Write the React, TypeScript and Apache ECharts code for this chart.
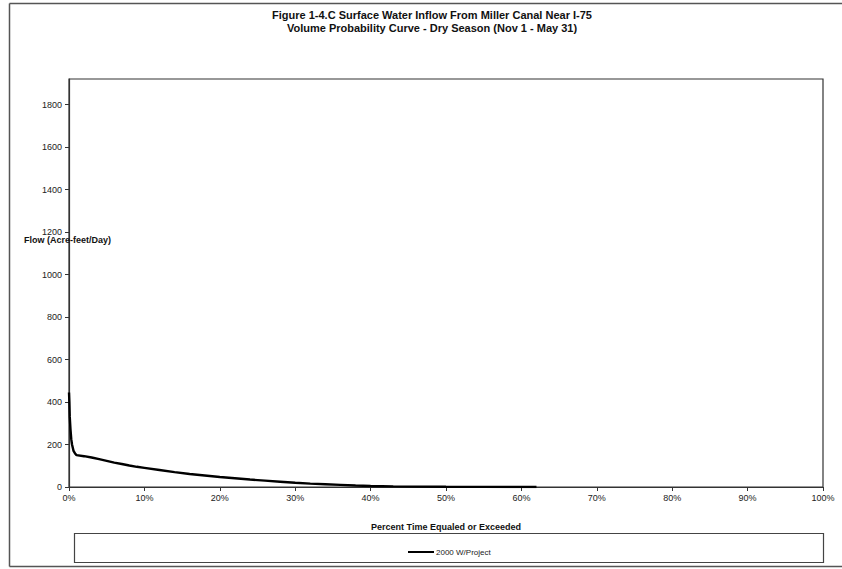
import React, { useEffect, useRef } from "react";
import * as echarts from "echarts";

const titleLines = [
  "Figure 1-4.C Surface Water Inflow From Miller Canal Near I-75",
  "Volume Probability Curve - Dry Season (Nov 1 - May 31)",
];
const seriesName = "2000 W/Project";
const xAxisName = "Percent Time Equaled or Exceeded";
const yAxisName = "Flow (Acre-feet/Day)";

// percent of time equaled or exceeded
const percent = [
  0, 0.05, 0.1, 0.2, 0.3, 0.4, 0.6, 0.8, 1, 2, 3, 4, 5, 6, 7, 8, 9, 10, 12, 14,
  16, 18, 20, 22, 24, 26, 28, 30, 32, 34, 36, 38, 40, 43, 46, 50, 55, 60, 62,
];
// flow (acre-feet/day)
const flow = [
  445, 400, 330, 270, 225, 200, 170, 158, 150, 145, 139, 131, 123, 115, 108, 101,
  95, 90, 80, 70, 61, 54, 47, 41, 35, 30, 25, 20, 16, 13, 10, 7, 5, 3, 2, 1, 0.5,
  0, 0,
];

export default function App() {
  const ref = useRef<HTMLDivElement>(null);
  useEffect(() => {
    if (!ref.current) return;
    const chart = echarts.init(ref.current, null, { renderer: "svg" });
    const font = "'Liberation Sans', Arial, sans-serif";
    chart.setOption({
      animation: false,
      backgroundColor: "#fff",
      title: {
        text: titleLines.join("\n"),
        left: 427,
        top: 3,
        textAlign: "center",
        textStyle: {
          fontFamily: font,
          fontSize: 11,
          fontWeight: "bold",
          color: "#111",
          lineHeight: 13,
        },
      },
      grid: {
        left: 69,
        right: 19,
        top: 79,
        bottom: 82,
        show: true,
        borderColor: "#333",
        borderWidth: 1.2,
        backgroundColor: "#fff",
      },
      xAxis: {
        type: "value",
        min: 0,
        max: 100,
        interval: 10,
        name: xAxisName,
        nameLocation: "middle",
        nameGap: 35,
        nameTextStyle: {
          fontFamily: font,
          fontSize: 9,
          fontWeight: "bold",
          color: "#111",
        },
        splitLine: { show: false },
        axisLine: { lineStyle: { color: "#333", width: 1.2 } },
        axisTick: { show: true, length: 4, lineStyle: { color: "#333" } },
        axisLabel: {
          formatter: "{value}%",
          fontFamily: font,
          fontSize: 9,
          color: "#222",
          margin: 6,
        },
      },
      yAxis: {
        type: "value",
        min: 0,
        max: 1920,
        interval: 200,
        splitLine: { show: false },
        axisLine: { show: true, lineStyle: { color: "#333", width: 1.2 } },
        axisTick: { show: true, length: 4, lineStyle: { color: "#333" } },
        axisLabel: {
          fontFamily: font,
          fontSize: 9,
          color: "#222",
          margin: 7,
          showMaxLabel: false,
          formatter: (v: number) => (v % 200 === 0 && v <= 1800 ? String(v) : ""),
        },
      },
      legend: {
        data: [{ name: seriesName, icon: "rect" }],
        left: 403,
        top: 543,
        itemWidth: 26,
        itemHeight: 2,
        itemGap: 2,
        textStyle: { fontFamily: font, fontSize: 8, color: "#222", padding: [0, 0, 0, -3] },
        selectedMode: false,
      },
      graphic: [
        {
          type: "line",
          shape: { x1: 9.5, y1: 3.5, x2: 842, y2: 3.5 },
          style: { stroke: "#555", lineWidth: 1.5 },
          z: 100,
        },
        {
          type: "line",
          shape: { x1: 9.5, y1: 3.5, x2: 9.5, y2: 566.5 },
          style: { stroke: "#555", lineWidth: 1.5 },
          z: 100,
        },
        {
          type: "line",
          shape: { x1: 9.5, y1: 566.5, x2: 842, y2: 566.5 },
          style: { stroke: "#555", lineWidth: 1.5 },
          z: 100,
        },
        {
          type: "rect",
          shape: { x: 74.5, y: 533.5, width: 749, height: 29 },
          style: { stroke: "#444", lineWidth: 1.2, fill: "none" },
          z: 100,
        },
        {
          type: "text",
          left: 24,
          top: 235,
          style: {
            text: yAxisName,
            fontFamily: font,
            fontSize: 9,
            fontWeight: "bold",
            fill: "#111",
          },
          z: 100,
        },
      ],
      series: [
        {
          name: seriesName,
          type: "line",
          data: percent.map((p, i) => [p, flow[i]]),
          showSymbol: false,
          lineStyle: { color: "#000", width: 2.4 },
          itemStyle: { color: "#000" },
        },
      ],
    });
    return () => chart.dispose();
  }, []);
  return (
    <div
      ref={ref}
      style={{ position: "absolute", left: 0, top: 0, width: 842, height: 569 }}
    />
  );
}
